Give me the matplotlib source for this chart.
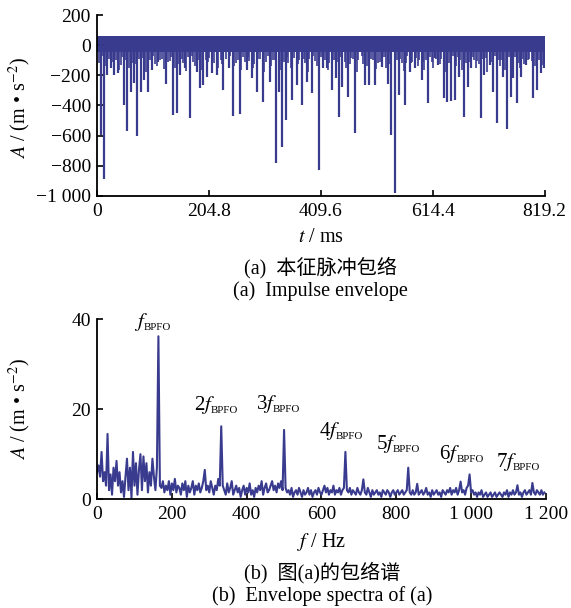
import numpy as np
import matplotlib
matplotlib.use("Agg")
import matplotlib.pyplot as plt

plt.rcParams.update({
    "font.family": ["Liberation Serif", "Noto Sans CJK SC"],
    "mathtext.fontset": "stix",
    "font.size": 14,
    "axes.linewidth": 1.3,
    "xtick.direction": "in",
    "ytick.direction": "in",
    "xtick.major.size": 4,
    "ytick.major.size": 4,
    "xtick.major.width": 1.2,
    "ytick.major.width": 1.2,
})

BLUE = "#393b8e"

# ---- (a) impulse envelope: large impulses (t in ms, depth in m/s^2) ----
spike_t = [6.7, 12.8, 18.9, 25, 31, 37.8, 48.8, 55.5, 61.6, 68.3, 73.8, 79.9, 86.6, 92.7,
           100, 112, 126.8, 139.6, 146.3, 152.4, 161, 170, 182, 188, 194.5,
           200.5, 209.6, 218.8, 231, 241.4, 248.7, 261.5, 273.7, 282.8, 292, 303, 316,
           327.3, 332.8, 338.9, 345.6, 357.1, 365, 375.4, 383.4, 393.7, 405.5,
           414, 420, 429, 436.5, 442.5, 448.6, 459.6, 471.8, 490, 497.4, 508.4, 520.6,
           531.6, 537.7, 545, 552.3, 563.3, 572.5, 581.6, 593.8, 605,
           618, 624, 634.5, 641, 647, 654.6, 662, 671.7, 679, 685, 702, 708, 718.6,
           725.3, 732.6, 742.4, 750.3, 757, 762, 768, 776.5, 785.7, 798.5, 805, 811.8, 817.9]
spike_v = [-596, -887, -198, -154, -198, -187, -397, -569, -308, -253, -602, -308, -231, -308,
           -165, -110, -260, -463, -452, -198, -154, -481, -176, -286, -264,
           -209, -187, -198, -297, -154, -467, -459, -165, -220, -308, -375, -242,
           -783, -308, -673, -496, -364, -264, -397, -242, -319, -828,
           -154, -150, -297, -220, -474, -275, -341, -585, -264, -264, -264, -143,
           -260, -596, -982, -330, -397, -176, -150, -231, -386,
           -87, -132, -352, -375, -370, -364, -209, -474, -275, -154, -485, -198, -132,
           -308, -518, -209, -556, -341, -220, -386, -209, -132, -352, -297, -187, -154]

# smaller dips that make up the comb under the envelope band
minor_t = [3, 9, 16, 22, 28, 34, 40, 43, 46, 52, 58, 65, 71, 77, 84, 90, 97, 103, 106, 109,
           115, 118, 122, 130, 133, 136, 143, 149, 155, 158, 163, 166, 173, 176, 179, 185,
           191, 199, 203, 205, 211, 214, 221, 226, 229, 236, 244, 251, 254, 258, 264, 267,
           270, 276, 278, 285, 288, 295, 298, 306, 310, 313, 319, 322, 325, 336, 342, 348,
           350, 354, 361, 368, 370, 378, 380, 386, 388, 396, 398, 402, 410, 417, 423, 425,
           433, 439, 446, 453, 456, 462, 465, 468, 475, 478, 484, 487, 494, 502, 505, 511,
           514, 517, 523, 526, 529, 534, 549, 555, 558, 561, 566, 568, 575, 577, 584, 587,
           590, 596, 598, 602, 609, 612, 615, 621, 627, 629, 638, 644, 651, 657, 660, 665,
           667, 675, 682, 688, 690, 693, 696, 699, 705, 711, 714, 721, 728, 735, 737, 740,
           746, 753, 760, 765, 772, 774, 779, 781, 788, 791, 795, 802, 808, 813, 815]
minor_v = [-120, -70, -140, -90, -110, -95, -165, -130, -80, -95, -150, -115, -125, -90, -85,
           -175, -100, -70, -125, -140, -95, -90, -160, -110, -105, -80, -150, -125, -90,
           -120, -170, -80, -70, -110, -140, -95, -165, -95, -110, -85, -80, -120, -150,
           -100, -125, -90, -70, -140, -115, -95, -165, -80, -110, -80, -105, -150, -125,
           -90, -90, -175, -110, -70, -140, -95, -95, -165, -110, -80, -120, -150, -85,
           -125, -100, -90, -115, -175, -90, -70, -105, -140, -80, -95, -165, -120, -95,
           -110, -80, -110, -150, -125, -85, -90, -175, -100, -70, -125, -140, -90, -95,
           -160, -115, -110, -80, -80, -150, -125, -95, -90, -120, -170, -115, -70, -120,
           -110, -85, -140, -95, -110, -165, -100, -80, -110, -150, -90, -125, -90, -175,
           -115, -70, -140, -80, -95, -165, -120, -110, -80, -95, -150, -105, -125, -90,
           -85, -175, -110, -70, -100, -140, -95, -165, -80, -110, -80, -120, -150, -90,
           -125, -100, -90, -105, -140, -95, -110, -130]

band_low, band_high = -45, 62
t_ticks = [0, 204.8, 409.6, 614.4, 819.2]
t_labels = ["0", "204.8", "409.6", "614.4", "819.2"]
a_ticks = [200, 0, -200, -400, -600, -800, -1000]
a_labels = ["200", "0", "\u2212200", "\u2212400", "\u2212600", "\u2212800", "\u22121 000"]

# ---- (b) envelope spectrum, 4 Hz bins ----
freq = np.arange(0, 1200, 4)
amp = [
    6, 7.5, 5, 10.5, 4, 6, 3, 14.5, 2, 5.5,
    1, 7, 4, 8.5, 3, 6, 1.5, 4, 0.5, 5,
    9, 2, 7, 0.3, 10.5, 3, 8, 1, 6.5, 10,
    2, 9.5, 4, 8, 1.5, 6, 3, 9, 5, 2,
    7, 36.2, 3, 2.5, 4, 1.5, 3, 2, 4, 1,
    3.5, 2, 4.5, 1.5, 3, 2.5, 1, 3.5, 2, 4,
    0.5, 3, 1.5, 2.5, 4, 1, 3, 2, 3.5, 1.5,
    2.5, 4, 6.5, 2, 3, 1.5, 4, 2.5, 1, 3,
    2, 4.5, 3, 16.2, 3, 2, 1, 3.5, 1.5, 2.5,
    4, 1, 2, 3, 1.5, 2.5, 0.5, 2, 3, 1,
    2.5, 1.5, 3.5, 1, 2, 0.5, 2.5, 1.5, 3, 2,
    4, 1, 2.5, 3.5, 1.5, 2, 3, 4, 2, 3,
    1.5, 3.5, 2.5, 4, 2, 15.4, 2.5, 1.5, 2, 1,
    2.5, 0.5, 1.5, 2, 1, 2.5, 1.5, 0.5, 2, 1,
    1.5, 2.5, 1, 2, 0.5, 1.5, 2, 1, 2.5, 1.5,
    1, 2, 3, 1.5, 2.5, 1, 2, 1.5, 3, 1,
    2, 1.5, 2.5, 1, 2, 2.5, 10.5, 2, 1.5, 2.5,
    1, 2, 1.5, 1, 2.5, 1.5, 1, 2, 4.4, 1.5,
    1, 2.5, 1.5, 0.5, 2, 1, 1.5, 2, 1, 1.5,
    0.5, 2, 1.5, 1, 2, 1.5, 0.5, 1.5, 2, 1,
    1.5, 2, 1, 1.5, 2, 1, 1.5, 2, 7.0, 1.5,
    1, 2, 1, 1.5, 3.4, 1, 1.5, 2, 1, 1.5,
    2.5, 1, 1.5, 0.5, 2, 1, 1.5, 2, 1, 1.5,
    0.5, 2, 1.5, 1, 2, 1.5, 2.5, 1, 2, 1.5,
    2.5, 1, 2, 3.9, 1.5, 2, 1, 2.5, 3, 5.5,
    1.5, 2, 1, 1.5, 0.5, 1.5, 1, 2, 0.5, 1,
    1.5, 0.5, 1, 1.5, 0.5, 1, 1.5, 0.5, 1, 1.5,
    1, 0.5, 1.5, 1, 2, 0.5, 1.5, 1, 2, 1,
    1.5, 3.1, 1, 1.5, 0.5, 1.5, 2, 1, 1.5, 2,
    1, 3.6, 1.5, 1, 2, 1.5, 1, 2, 1, 1.5,
]
# harmonic labels: prefix, anchor where f ends / BPFO starts, baseline height
harm_pre = ["", "2", "3", "4", "5", "6", "7"]
harm_x = [136, 315, 482, 649, 803, 972, 1123]
harm_y = [38.3, 19.8, 20.1, 14.1, 11.1, 8.9, 7.2]
f_ticks = [0, 200, 400, 600, 800, 1000, 1200]
f_labels = ["0", "200", "400", "600", "800", "1 000", "1 200"]

fig = plt.figure(figsize=(5.71, 6.08), dpi=100)

def style(ax):
    for s in ("top", "right"):
        ax.spines[s].set_visible(False)
    ax.tick_params(axis="x", pad=5)
    ax.tick_params(axis="y", pad=4.5)

# ---------------- (a) ----------------
ax1 = fig.add_axes([0.170, 0.678, 0.784, 0.297])
ax1.fill_between([0, 819.2], band_low, band_high, color=BLUE, lw=0)
ax1.vlines(minor_t, 30, minor_v, color=BLUE, lw=1.2)
ax1.vlines(spike_t, 30, spike_v, color=BLUE, lw=1.6)
ax1.set_xlim(0, 819.2)
ax1.set_ylim(-1000, 200)
ax1.set_xticks(t_ticks)
ax1.set_xticklabels(t_labels)
ax1.set_yticks(a_ticks)
ax1.set_yticklabels(a_labels)
style(ax1)

# ---------------- (b) ----------------
ax2 = fig.add_axes([0.170, 0.179, 0.786, 0.296])
ax2.plot(freq, amp, color=BLUE, lw=1.5)
ax2.set_xlim(0, 1200)
ax2.set_ylim(0, 40)
ax2.set_xticks(f_ticks)
ax2.set_xticklabels(f_labels)
ax2.set_yticks([0, 20, 40])
style(ax2)
for k, x, y in zip(harm_pre, harm_x, harm_y):
    ax2.text(x, y, k + r"$f$", ha="right", va="baseline", fontsize=15)
    ax2.annotate("BPFO", xy=(x, y), xytext=(-3.2, -2), textcoords="offset points",
                 ha="left", va="baseline", fontsize=7.8)

# labels and captions, placed in figure pixels
W, H = 571, 608
def ftext(px, py, s, **kw):
    fig.text(px / W, 1 - py / H, s, ha="center", va="center", **kw)

ftext(20, 108, r"$A$ / (m • s$^{-2}$)", rotation=90, fontsize=14.5)
ftext(20, 409, r"$A$ / (m • s$^{-2}$)", rotation=90, fontsize=14.5)
ftext(321, 237, r"$t$ / ms", fontsize=14.5)
ftext(322, 542, r"$f$ / Hz", fontsize=14.5)
ftext(320, 268, "(a)  本征脉冲包络", fontsize=14.5)
ftext(320, 291, "(a)  Impulse envelope", fontsize=14.5)
ftext(322, 573, "(b)  图(a)的包络谱", fontsize=14.5)
ftext(322, 596, "(b)  Envelope spectra of (a)", fontsize=14.5)

fig.savefig("out.png", dpi=100)
